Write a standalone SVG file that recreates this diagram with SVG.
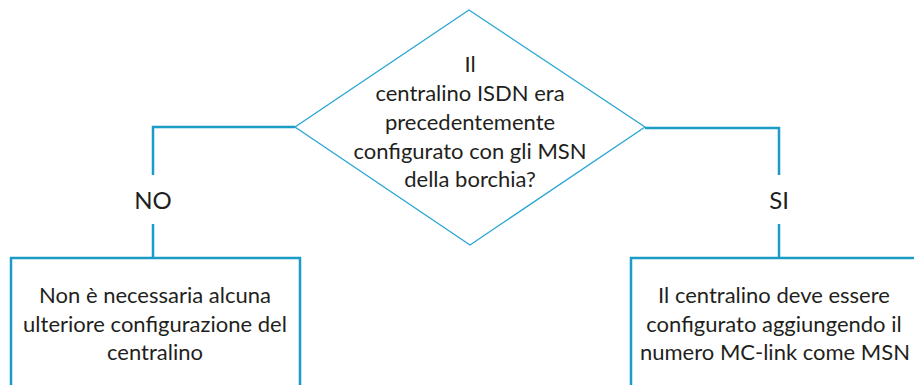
<svg xmlns="http://www.w3.org/2000/svg" width="914" height="385" viewBox="0 0 914 385">
<style>
text{font-family:Lato,"Liberation Sans",sans-serif;font-size:22px;fill:#231f20;text-anchor:middle}
.lbl{font-size:24px}
.box{fill:none;stroke:#1a9cc4;stroke-width:2.5}
.dia{fill:none;stroke:#2aa6d4;stroke-width:1.3}
.con{fill:none;stroke:#1a9cc4;stroke-width:2.5}
</style>
<rect width="914" height="385" fill="#fff"/>
<g id="connectors">
<polyline class="con" points="295,127 153,127 153,175"/>
<line class="con" x1="153" y1="224" x2="153" y2="258"/>
<polyline class="con" points="645,128 779,128 779,175"/>
<line class="con" x1="779" y1="224" x2="779" y2="258"/>
<text class="lbl" x="153" y="209">NO</text>
<text class="lbl" x="779" y="209">SI</text>
</g>
<g id="decision">
<polygon class="dia" points="469,10 645,127 470,245 295,127"/>
<text x="470" y="72">Il</text>
<text x="470" y="101">centralino ISDN era</text>
<text x="470" y="130">precedentemente</text>
<text x="470" y="159">configurato con gli MSN</text>
<text x="470" y="187">della borchia?</text>
</g>
<g id="no-box">
<polyline class="box" points="11,390 11,258 300,258 300,390"/>
<text x="155" y="303">Non è necessaria alcuna</text>
<text x="155" y="332">ulteriore configurazione del</text>
<text x="155" y="360">centralino</text>
</g>
<g id="si-box">
<polyline class="box" points="631,390 631,258 920,258"/>
<text x="774" y="303">Il centralino deve essere</text>
<text x="774" y="332">configurato aggiungendo il</text>
<text x="775" y="360">numero MC-link come MSN</text>
</g>
</svg>
